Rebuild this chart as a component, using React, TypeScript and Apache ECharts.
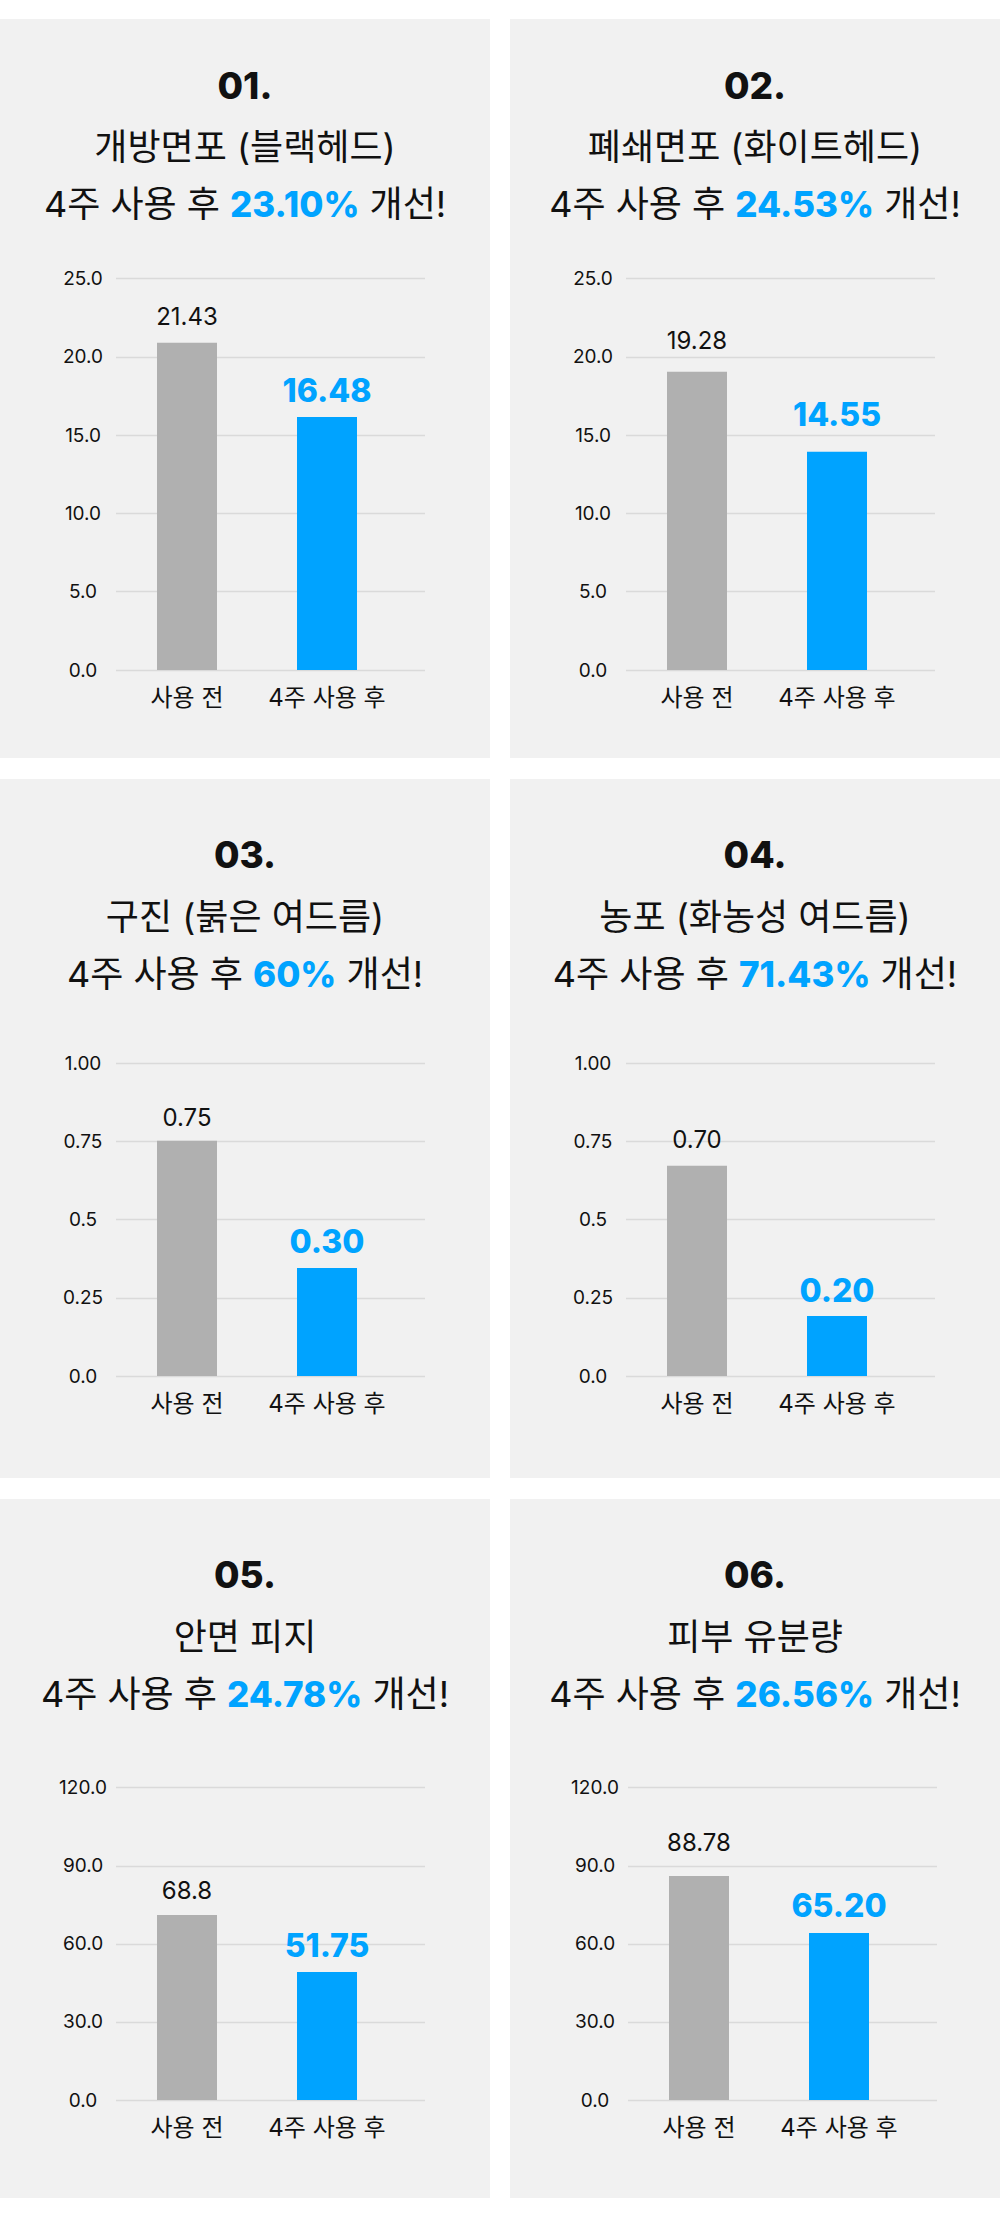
import React, { useEffect, useRef } from 'react';
import * as echarts from 'echarts';

// ---------- data ----------
const categories = ['사용 전', '4주 사용 후'];
const panelNumbers = ['01.', '02.', '03.', '04.', '05.', '06.'];
const panelNames = [
  '개방면포 (블랙헤드)',
  '폐쇄면포 (화이트헤드)',
  '구진 (붉은 여드름)',
  '농포 (화농성 여드름)',
  '안면 피지',
  '피부 유분량',
];
const improvements = ['23.10%', '24.53%', '60%', '71.43%', '24.78%', '26.56%'];

// bar heights as drawn in the picture
const beforeValues = [20.89, 19.05, 0.752, 0.672, 71.09, 86.07];
const afterValues = [16.16, 13.94, 0.345, 0.192, 49.18, 64.17];
// value labels as printed
const beforeLabels = ['21.43', '19.28', '0.75', '0.70', '68.8', '88.78'];
const afterLabels = ['16.48', '14.55', '0.30', '0.20', '51.75', '65.20'];

const yMax = [25, 25, 1, 1, 120, 120];
const yInterval = [5, 5, 0.25, 0.25, 30, 30];
const ticks25 = ['0.0', '5.0', '10.0', '15.0', '20.0', '25.0'];
const ticks1 = ['0.0', '0.25', '0.5', '0.75', '1.00'];
const ticks120 = ['0.0', '30.0', '60.0', '90.0', '120.0'];
const yTickLabels = [ticks25, ticks25, ticks1, ticks1, ticks120, ticks120];

// ---------- layout / style ----------
const FONT = "Inter, 'Noto Sans CJK KR', sans-serif";
const PANEL_BG = '#f1f1f1';
const GRAY = '#b0b0b0';
const BLUE = '#00a3ff';
const TEXT = '#111111';
const GRID_LINE = '#dadada';
const PANEL_W = 490;
const COL_X = [0, 510];
const ROWS = [
  { top: 19, h: 739, gridTop: 278.5, gridBottom: 670, titleY: [85, 147, 203.5] },
  { top: 779, h: 699, gridTop: 1063.3, gridBottom: 1376, titleY: [854.2, 917, 973.5] },
  { top: 1499, h: 699, gridTop: 1787.7, gridBottom: 2100, titleY: [1574.2, 1637, 1693.5] },
];
// extra lift of each value label above its bar (layout, px)
const LIFT_BEFORE = [1.7, 6, -1.7, 1.7, 0, 9.3];
const LIFT_AFTER = [0, 11, -0.3, -0.7, 0.3, 1.3];

export default function App() {
  const ref = useRef<HTMLDivElement>(null);

  useEffect(() => {
    if (!ref.current) return;
    const chart = echarts.init(ref.current, null, { renderer: 'svg' });

    const grid: any[] = [];
    const xAxis: any[] = [];
    const yAxis: any[] = [];
    const series: any[] = [];
    const graphic: any[] = [];

    for (let i = 0; i < 6; i++) {
      const row = ROWS[Math.floor(i / 2)];
      const px = COL_X[i % 2];
      const shift = i === 5 ? 2 : 0;
      const gl = px + 116 + shift;
      const cx = px + 245;
      const gh = row.gridBottom - row.gridTop;
      const ticks = yTickLabels[i];

      // titles
      graphic.push({
        type: 'text',
        x: cx,
        y: row.titleY[0],
        silent: true,
        style: {
          text: panelNumbers[i],
          align: 'center',
          verticalAlign: 'middle',
          fontFamily: FONT,
          fontSize: 37,
          fontWeight: 800,
          lineHeight: 40,
          fill: TEXT,
        },
      });
      graphic.push({
        type: 'text',
        x: cx,
        y: row.titleY[1],
        silent: true,
        style: {
          text: panelNames[i],
          align: 'center',
          verticalAlign: 'middle',
          fontFamily: FONT,
          fontSize: 36,
          fontWeight: 'normal',
          lineHeight: 40,
          fill: TEXT,
        },
      });
      graphic.push({
        type: 'text',
        x: cx,
        y: row.titleY[2],
        silent: true,
        style: {
          text: '4주 사용 후 {b|' + improvements[i] + '} 개선!',
          align: 'center',
          verticalAlign: 'middle',
          fontFamily: FONT,
          fontSize: 36,
          fontWeight: 'normal',
          lineHeight: 40,
          fill: TEXT,
          rich: {
            b: {
              fontFamily: FONT,
              fontSize: 35,
              fontWeight: 800,
              lineHeight: 40,
              fill: BLUE,
            },
          },
        },
      });

      // grid A: gridlines + y labels
      grid.push({ left: gl, top: row.gridTop, width: 309, height: gh });
      // grid B: bars + x labels
      grid.push({ left: gl + 1, top: row.gridTop, width: 280, height: gh });

      xAxis.push({ type: 'category', gridIndex: 2 * i, data: categories, show: false });
      xAxis.push({
        type: 'category',
        gridIndex: 2 * i + 1,
        data: categories,
        axisLine: { show: false },
        axisTick: { show: false },
        axisLabel: {
          interval: 0,
          hideOverlap: false,
          margin: 15.5,
          fontFamily: FONT,
          fontSize: 24,
          lineHeight: 24,
          color: TEXT,
        },
      });

      yAxis.push({
        type: 'value',
        gridIndex: 2 * i,
        min: 0,
        max: yMax[i],
        interval: yInterval[i],
        axisLine: { show: false },
        axisTick: { show: false },
        splitLine: { show: true, lineStyle: { color: GRID_LINE, width: 1.3 } },
        axisLabel: {
          align: 'center',
          margin: 33,
          fontFamily: FONT,
          fontSize: 19,
          lineHeight: 19,
          padding: [5, 0, 0, 0],
          color: TEXT,
          formatter: (_v: number, idx: number) => ticks[idx],
        },
      });
      yAxis.push({
        type: 'value',
        gridIndex: 2 * i + 1,
        min: 0,
        max: yMax[i],
        interval: yInterval[i],
        show: false,
        splitLine: { show: false },
      });

      const labelsForPanel = [beforeLabels[i], afterLabels[i]];
      series.push({
        type: 'bar',
        xAxisIndex: 2 * i + 1,
        yAxisIndex: 2 * i + 1,
        barWidth: 60,
        silent: true,
        label: {
          show: true,
          position: 'top',
          formatter: (p: any) => labelsForPanel[p.dataIndex],
        },
        data: [
          {
            value: beforeValues[i],
            itemStyle: { color: GRAY },
            label: {
              fontFamily: FONT,
              fontSize: 24,
              lineHeight: 24,
              fontWeight: 'normal',
              color: TEXT,
              distance: 12.7 + LIFT_BEFORE[i],
            },
          },
          {
            value: afterValues[i],
            itemStyle: { color: BLUE },
            label: {
              fontFamily: FONT,
              fontSize: 32,
              lineHeight: 32,
              fontWeight: 800,
              color: BLUE,
              distance: 10.6 + LIFT_AFTER[i],
            },
          },
        ],
      });
    }

    chart.setOption({
      animation: false,
      backgroundColor: 'transparent',
      grid,
      xAxis,
      yAxis,
      series,
      graphic,
    });

    return () => chart.dispose();
  }, []);

  const panels = [];
  for (let i = 0; i < 6; i++) {
    const row = ROWS[Math.floor(i / 2)];
    panels.push(
      <div
        key={i}
        style={{
          position: 'absolute',
          left: COL_X[i % 2],
          top: row.top,
          width: PANEL_W,
          height: row.h,
          background: PANEL_BG,
        }}
      />
    );
  }

  return (
    <div style={{ position: 'absolute', left: 0, top: 0, width: 1000, height: 2231, background: '#ffffff' }}>
      {panels}
      <div ref={ref} style={{ position: 'absolute', left: 0, top: 0, width: 1000, height: 2231 }} />
    </div>
  );
}
